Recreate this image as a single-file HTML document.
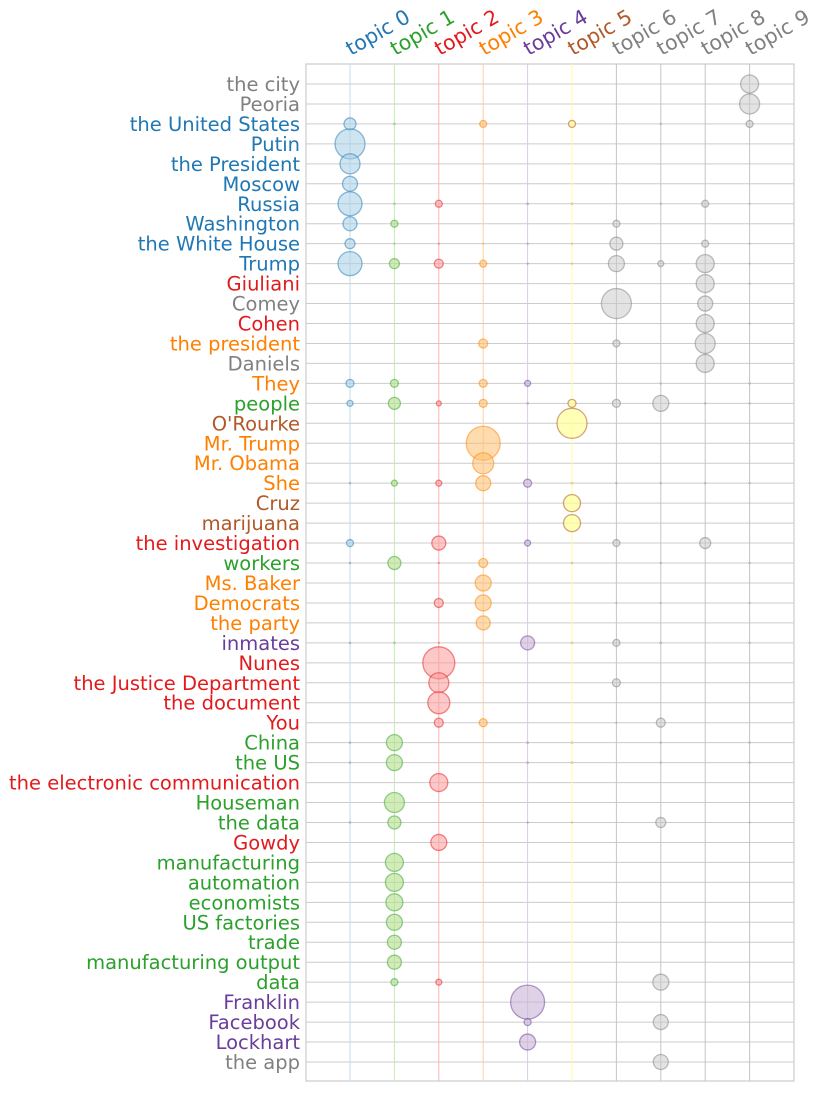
<!DOCTYPE html>
<html><head><meta charset="utf-8">
<style>
html,body{margin:0;padding:0;background:#fff;}
svg text{font-family:"DejaVu Sans","Liberation Sans",sans-serif;}
</style></head>
<body>
<svg id="chart" width="827" height="1092" xmlns="http://www.w3.org/2000/svg"></svg>
<script>
const topics = ["topic 0","topic 1","topic 2","topic 3","topic 4","topic 5","topic 6","topic 7","topic 8","topic 9"];
const terms = ["the city","Peoria","the United States","Putin","the President","Moscow","Russia","Washington","the White House","Trump","Giuliani","Comey","Cohen","the president","Daniels","They","people","O'Rourke","Mr. Trump","Mr. Obama","She","Cruz","marijuana","the investigation","workers","Ms. Baker","Democrats","the party","inmates","Nunes","the Justice Department","the document","You","China","the US","the electronic communication","Houseman","the data","Gowdy","manufacturing","automation","economists","US factories","trade","manufacturing output","data","Franklin","Facebook","Lockhart","the app"];
const termTopic = [6,6,0,0,0,0,0,0,0,0,2,6,2,3,6,3,1,5,3,3,3,5,5,2,1,3,3,3,4,2,2,2,2,1,1,2,1,1,2,1,1,1,1,1,1,1,4,4,4,6];
const weights = [
[0,0,0,0,0,0,0,0,0,9],
[0,0,0,0,0,0,0,0,0,10],
[6,1,0,3.5,0,3.5,0,1,0,3.5],
[15,0,0,0,0,0,0,0,0,0],
[10,0,0,0,0,0,0,0,0,0],
[7.5,0,0,0,0,0,0,0,0,0],
[12,1,3.5,0,1,1,0,1,3.5,0.8],
[7,3.5,0,0,0,0,3.5,0,0,0],
[5,0.8,0.8,0.8,0.8,0.8,6.5,0,3.5,0.8],
[12,5,4.5,3.5,0.8,0.8,8,3,9,0.8],
[0,0,0,0,0,0,0,0,9,0.8],
[0,0,0,0,0,0,15,0,7.5,0],
[0,0,0,0,0,0,0,0,9,0.8],
[0,0,0,4.5,0,0,3.5,0,10,0],
[0,0,0,0,0,0,0,0,9,0],
[4,4,0,4,3,0,0,1,0,1],
[3,6,2.5,4,1,4,4,8,1,1],
[0,0,0,0,0,15,0,0,0,0],
[0,0,0,17,0,0,0,0,0,0],
[0,0,0,10.5,0,0,0,0,0,0],
[1,3,3,7.5,4,1,1,1,1,1],
[0,0,0,0,0,8.5,0,0,0,0],
[0,0,0,0,0,8.5,0,0,0,0],
[3.5,0,7,0,3,0,3.5,0,5.5,0],
[1,6.5,0.8,4.5,0,1,0,1,0,1],
[0,0,0,8,0,0,0,0,0,0],
[0,0,4.5,8,0,0,0.8,0.8,0,0.8],
[0,0,0,7,0,0,0,0,0,0],
[1,1,0.8,0,7,1,3.5,1.2,0,1],
[0,0,16,0,0,0,0,0,0,0],
[0,0,10,0,0,0,4,0,0,0],
[0,0,11,0,0,0,0,0,0,0],
[0,0,4.5,4,0,0,0.8,4.5,0,0],
[1,8,0,0,1,1,0,1,0,1],
[1,8,0,0,1,1,0,1,0,1],
[0,0,9,0,0,0,0,0,0,0],
[0,10,0,0,0,0,0,0,0,0],
[1,6.5,0,0,0.8,0.8,0,5,0,0.8],
[0,0,8,0,0,0,0,0,0,0],
[0,9,0,0,0,0,0,0,0,0],
[0,9,0,0,0,0,0,0,0,0],
[0,8.5,0,0,0,0,0,0,0,0],
[0,8,0,0,0,0,0,0,0,0],
[0,7,0,0,0,0,0,0,0,0],
[0,7,0,0,0,0,0,0,0,0],
[0,3.5,3,0,0,0,0,8,0,0],
[0,0,0,0,17,0,0,0,0,0],
[0,0,0,0,3.5,0,0,7.5,0,0],
[0,0,0,0,8,0,0,0,0,0],
[0,0,0,0,0,0,0,7.5,0,0]
];

const textColors=["#1f77b4","#2ca02c","#e31a1c","#ff7f00","#6a3d9a","#b15928","#808080","#808080","#808080","#808080"];
const fillColors=["rgba(166,206,227,0.55)","rgba(178,223,138,0.6)","rgba(251,154,153,0.55)","rgba(253,191,111,0.55)","rgba(202,178,214,0.6)","rgba(255,255,153,0.7)","rgba(200,200,200,0.5)","rgba(200,200,200,0.5)","rgba(200,200,200,0.5)","rgba(200,200,200,0.5)"];
const strokeColors=["rgba(31,119,180,0.5)","rgba(51,160,44,0.5)","rgba(227,26,28,0.5)","rgba(255,127,0,0.5)","rgba(106,61,154,0.5)","rgba(177,89,40,0.55)","rgba(128,128,128,0.5)","rgba(128,128,128,0.5)","rgba(128,128,128,0.5)","rgba(128,128,128,0.5)"];
const vGridColors=["#c6dbef","#c7e9b4","#fbb4b4","#fdd0a2","#dacbe6","#ffff99","#c4c4c4","#c4c4c4","#c4c4c4","#c4c4c4"];

const NS="http://www.w3.org/2000/svg";
const svg=document.getElementById('chart');
const plot={left:306,right:794,top:64,bottom:1081};
const x0=350, dx=44.4, y0=84, dy=(1062-84)/49;
function xScale(i){return x0+i*dx;}
function yScale(j){return y0+j*dy;}
function rScale(v){return v;}
function mk(tag,attrs){const e=document.createElementNS(NS,tag);for(const k in attrs)e.setAttribute(k,attrs[k]);svg.appendChild(e);return e;}

const frame=mk('rect',{x:plot.left,y:plot.top,width:plot.right-plot.left,height:plot.bottom-plot.top,fill:'#fff',stroke:'#cccccc','stroke-width':1.2});



terms.forEach((t,j)=>{
  const l=mk('line',{x1:plot.left,x2:plot.right,y1:yScale(j),y2:yScale(j),stroke:'#cccccc','stroke-width':1});
  
  
});
topics.forEach((t,i)=>{
  const l=mk('line',{x1:xScale(i),x2:xScale(i),y1:plot.top,y2:plot.bottom,stroke:vGridColors[i],'stroke-width':1});
  
  
  const tx=mk('text',{x:xScale(i)+1,y:56,fill:textColors[i],'font-size':20.5,transform:`rotate(-30 ${xScale(i)+1} 56)`});
  tx.textContent=t;
  
  
});
terms.forEach((t,j)=>{
  const tx=mk('text',{x:300,y:yScale(j)+7,fill:textColors[termTopic[j]],'font-size':19.5,'text-anchor':'end'});
  tx.textContent=t;
  
  
});
weights.forEach((row,j)=>{
  row.forEach((v,i)=>{
    if(v<=0)return;
    const c=mk('circle',{cx:xScale(i),cy:yScale(j),r:rScale(v),fill:fillColors[i],stroke:strokeColors[i],'stroke-width':v<1.5?0.5:1.3});
    
    
  });
});
</script>
</body></html>
